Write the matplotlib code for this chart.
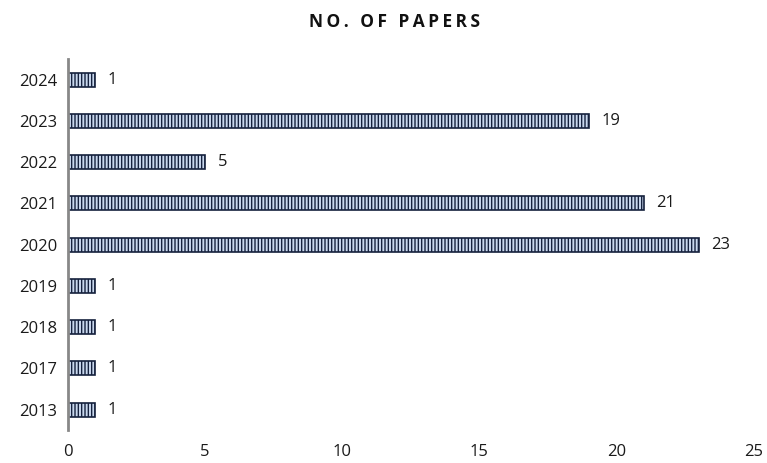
import matplotlib.pyplot as plt
import matplotlib as mpl

years = ["2013", "2017", "2018", "2019", "2020", "2021", "2022", "2023", "2024"]
papers = [1, 1, 1, 1, 23, 21, 5, 19, 1]

mpl.rcParams['font.family'] = ['Open Sans', 'DejaVu Sans']
mpl.rcParams['hatch.linewidth'] = 1.0
mpl.rcParams['hatch.color'] = '#1c2a4a'

fig = plt.figure(figsize=(7.67, 4.63), dpi=100)
ax = fig.add_axes([0.0887, 0.071, 0.894, 0.801])

bars = ax.barh(years, papers, height=0.34, color='#c9d8ee', edgecolor='#15213d',
               linewidth=1.2, hatch='|||||')
for b, v in zip(bars, papers):
    ax.annotate(str(v), (b.get_width(), b.get_y() + b.get_height() / 2),
                xytext=(9, 0), textcoords='offset points', va='center', ha='left',
                fontsize=12, color='#1a1a1a')

ax.set_xlim(0, 25)
ax.set_ylim(-0.5, len(years) - 0.5)
ax.set_xticks([0, 5, 10, 15, 20, 25])
for s in ['top', 'right', 'bottom']:
    ax.spines[s].set_visible(False)
ax.spines['left'].set_color('#888888')
ax.spines['left'].set_linewidth(2)
ax.tick_params(axis='both', length=0, labelsize=12, colors='#1a1a1a')
ax.tick_params(axis='x', pad=10)
ax.tick_params(axis='y', pad=8)

title = "\u2009".join("NO. OF PAPERS").replace("\u2009 \u2009", "\u2009\u2009 ")
fig.text(0.515, 0.952, title, ha='center', va='center',
         fontsize=12.5, fontweight='bold', color='#111111')

fig.savefig("out.png", dpi=100)
